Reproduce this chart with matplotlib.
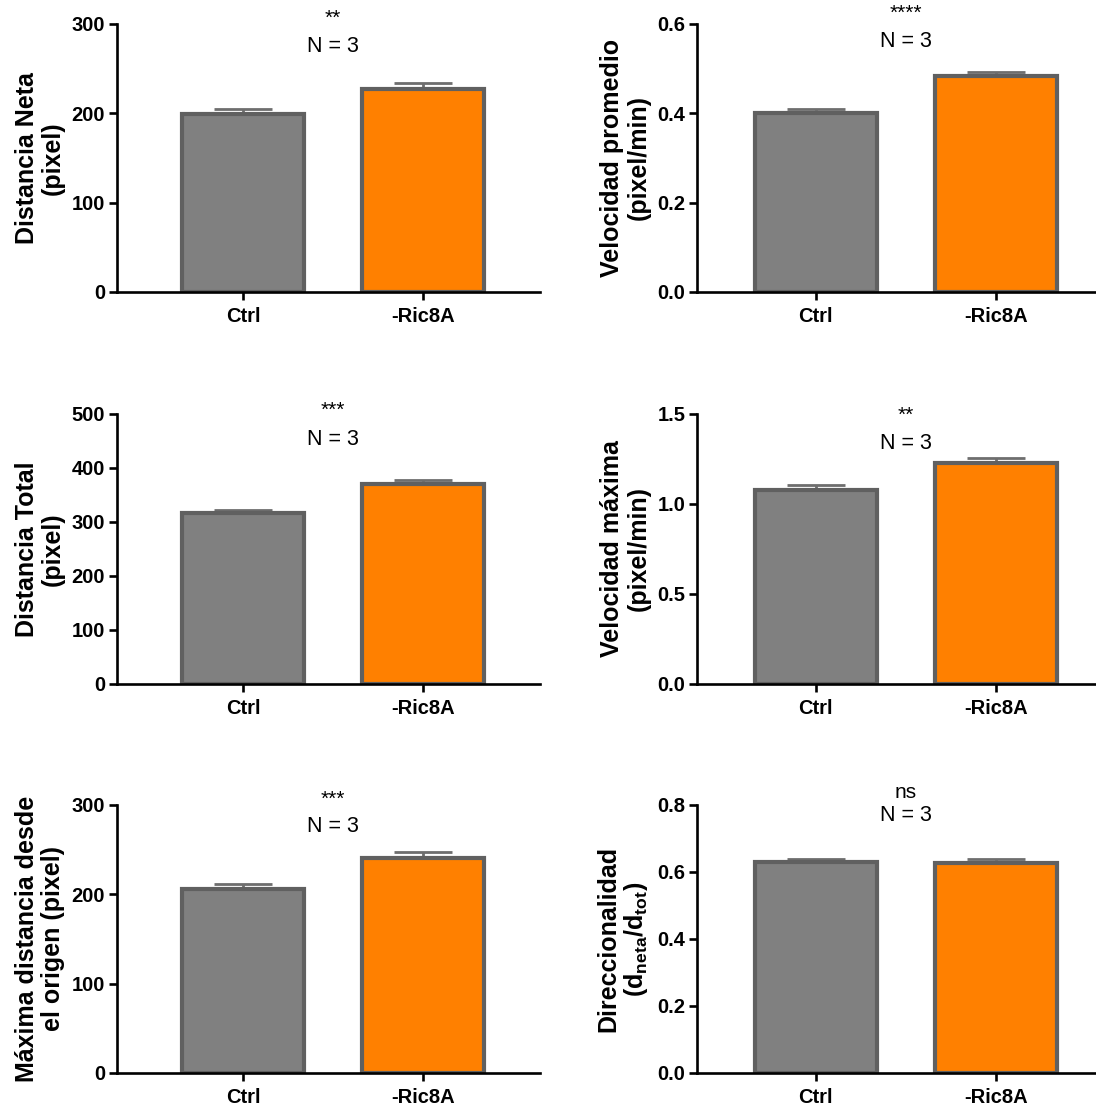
import matplotlib
matplotlib.use('Agg')
import matplotlib.pyplot as plt

# datos
grupos = ['Ctrl', '-Ric8A']
colores = ['#808080', '#ff8000']

etiquetas = ['Distancia Neta\n(pixel)',
             'Velocidad promedio\n(pixel/min)',
             'Distancia Total\n(pixel)',
             'Velocidad máxima\n(pixel/min)',
             'Máxima distancia desde\nel origen (pixel)',
             'Direccionalidad\n(d$_{neta}$/d$_{tot}$)']
medias = [[199, 227], [0.400, 0.484], [316, 370],
          [1.075, 1.225], [206, 241], [0.630, 0.628]]
errores = [[6, 7], [0.010, 0.009], [7, 8],
           [0.033, 0.033], [6, 6], [0.010, 0.011]]
yticks = [[0, 100, 200, 300], [0.0, 0.2, 0.4, 0.6], [0, 100, 200, 300, 400, 500],
          [0.0, 0.5, 1.0, 1.5], [0, 100, 200, 300], [0.0, 0.2, 0.4, 0.6, 0.8]]
formatos = ['{:.0f}', '{:.1f}', '{:.0f}', '{:.1f}', '{:.0f}', '{:.1f}']
significancia = ['**', '****', '***', '**', '***', 'ns']
n_texto = 'N = 3'

# posiciones de las anotaciones (fraccion del eje)
pos_sig = [1.022, 1.038, 1.015, 0.995, 1.022, 1.048]
pos_n = [0.914, 0.933, 0.907, 0.889, 0.918, 0.959]

plt.rcParams['font.family'] = ['Liberation Sans', 'DejaVu Sans']
plt.rcParams['mathtext.default'] = 'regular'

fig = plt.figure(figsize=(10.96, 11.08), dpi=100)

izq = [0.1068, 0.636]
xmin = [-0.7, -0.66]
abajo = [0.7365, 0.3827, 0.0316]
altura = [0.2419, 0.2437, 0.2419]
ancho = 0.386

for i in range(6):
    fila, col = i // 2, i % 2
    ax = fig.add_axes([izq[col], abajo[fila], ancho, altura[fila]])
    x = [0, 1]
    ax.errorbar(x, medias[i], yerr=[[0, 0], errores[i]], fmt='none',
                ecolor='#6e6e6e', elinewidth=2, capsize=21, capthick=2, zorder=1)
    ax.bar(x, medias[i], width=0.68, color=colores, edgecolor='#606060',
           linewidth=3, zorder=2)
    ax.set_xlim(xmin[col], xmin[col] + 2.35)
    ax.set_ylim(yticks[i][0], yticks[i][-1])
    ax.set_yticks(yticks[i])
    ax.set_yticklabels([formatos[i].format(v) for v in yticks[i]])
    ax.set_xticks(x)
    ax.set_xticklabels(grupos)
    for lado in ['top', 'right']:
        ax.spines[lado].set_visible(False)
    for lado in ['left', 'bottom']:
        ax.spines[lado].set_linewidth(1.9)
    ax.tick_params(axis='both', width=1.9, length=5.5, labelsize=14.5)
    ax.tick_params(axis='y', pad=3)
    ax.tick_params(axis='x', pad=5)
    for t in ax.get_xticklabels() + ax.get_yticklabels():
        t.set_fontweight('bold')
    ax.set_ylabel(etiquetas[i], fontsize=18, fontweight='bold', labelpad=5,
                  linespacing=1.1)
    ax.text(0.5, pos_sig[i], significancia[i], transform=ax.get_xaxis_transform(),
            ha='center', va='center', fontsize=15,
            clip_on=False)
    ax.text(0.5, pos_n[i], n_texto, transform=ax.get_xaxis_transform(),
            ha='center', va='center', fontsize=15.5)

fig.savefig('out.png', dpi=100)
